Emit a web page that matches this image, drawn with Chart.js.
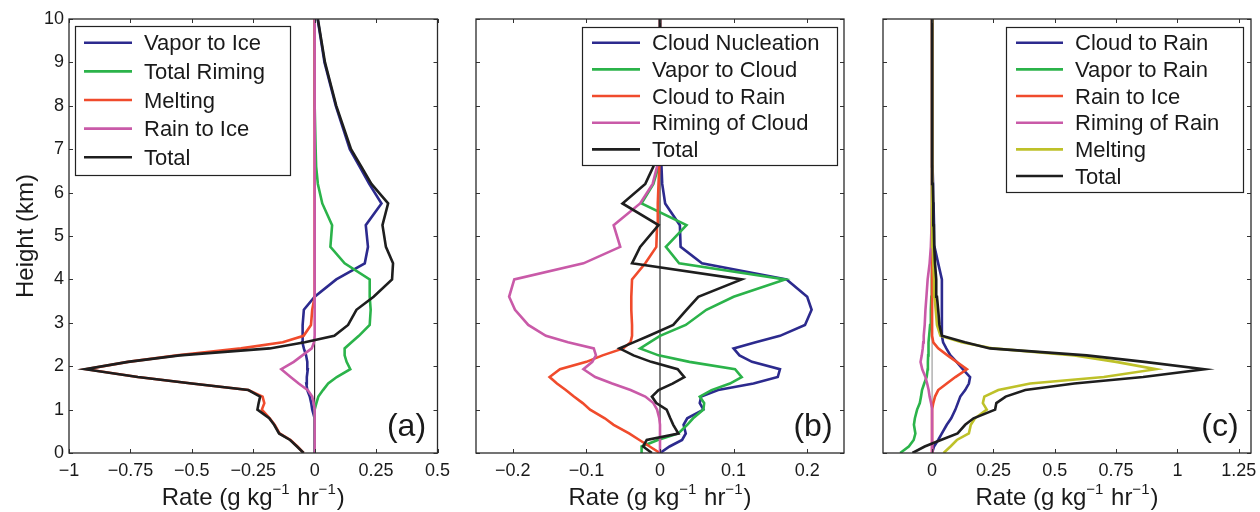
<!DOCTYPE html>
<html>
<head>
<meta charset="utf-8">
<script src="https://cdn.jsdelivr.net/npm/chart.js@4/dist/chart.umd.min.js"></script>
<style>
  html, body { margin: 0; padding: 0; background: #fff; }
  #wrap { position: relative; width: 1260px; height: 512px; }
  #wrap canvas { position: absolute; left: 0; top: 0; }
</style>
</head>
<body>
<div id="wrap">
  <canvas id="panelA" width="1260" height="512"></canvas>
  <canvas id="panelB" width="1260" height="512"></canvas>
  <canvas id="panelC" width="1260" height="512"></canvas>
</div>
<script>
const heights = [0, 0.15, 0.3, 0.45, 0.65, 0.8, 1.0, 1.15, 1.3, 1.45, 1.6, 1.75, 1.93, 2.1, 2.25, 2.41,
  2.55, 2.7, 2.95, 3.3, 3.6, 4.0, 4.37, 4.75, 5.25, 5.75, 6.2, 6.6, 7.0, 8.0, 9.0, 10];

// Panel (a) - ice budget (g/kg/hr)
const labelsA = ['Vapor to Ice', 'Total Riming', 'Melting', 'Rain to Ice', 'Total'];
const vaporToIceA = [0, 0, 0, 0, 0, -0.002, -0.01, -0.014, -0.02, -0.03, -0.034, -0.032, -0.028, -0.03, -0.035, -0.044,
  -0.05, -0.05, -0.048, -0.044, 0, 0.088, 0.204, 0.217, 0.208, 0.272, 0.222, 0.183, 0.143, 0.086, 0.04, 0.012];
const totalRimingA = [0, 0, 0, 0, 0, 0, 0, 0.007, 0.015, 0.034, 0.055, 0.09, 0.145, 0.13, 0.122, 0.122,
  0.15, 0.18, 0.224, 0.228, 0.224, 0.224, 0.122, 0.064, 0.071, 0.031, 0.013, 0.006, 0.004, 0, 0, 0];
const meltingA = [-0.045, -0.07, -0.098, -0.143, -0.163, -0.183, -0.215, -0.205, -0.212, -0.27, -0.5, -0.72, -0.93, -0.76, -0.56, -0.3,
  -0.13, -0.045, -0.015, -0.01, 0, 0, 0, 0, 0, 0, 0, 0, 0, 0, 0, 0];
const rainToIceA = [0, 0, 0, 0, 0, 0, 0, -0.004, -0.01, -0.028, -0.065, -0.098, -0.136, -0.085, -0.05, -0.012,
  -0.003, 0, 0, 0, 0, 0, 0, 0, 0, 0, 0, 0, 0, 0, 0, 0];
const totalA = [-0.045, -0.072, -0.1, -0.145, -0.165, -0.185, -0.233, -0.228, -0.222, -0.27, -0.5, -0.72, -0.934, -0.76, -0.55, -0.183,
  -0.04, 0.08, 0.136, 0.17, 0.24, 0.315, 0.319, 0.29, 0.276, 0.299, 0.231, 0.19, 0.148, 0.088, 0.042, 0.013];

// Panel (b) - cloud water budget
const labelsB = ['Cloud Nucleation', 'Vapor to Cloud', 'Cloud to Rain', 'Riming of Cloud', 'Total'];
const cloudNucleationB = [0, 0.013, 0.03, 0.035, 0.032, 0.037, 0.059, 0.054, 0.056, 0.079, 0.127, 0.16, 0.163, 0.125, 0.108, 0.1,
  0.13, 0.163, 0.197, 0.206, 0.2, 0.172, 0.057, 0.028, 0.027, 0.007, 0.003, 0.002, 0.001, 0, 0, 0];
const vaporToCloudB = [-0.025, -0.025, -0.003, 0.025, 0.037, 0.045, 0.059, 0.06, 0.054, 0.07, 0.095, 0.111, 0.102, 0.04, -0.002, -0.027,
  -0.014, 0, 0.035, 0.063, 0.1, 0.17, 0.026, 0.008, 0.036, -0.025, -0.009, -0.002, 0, 0, 0, 0];
const cloudToRainB = [0, -0.014, -0.028, -0.042, -0.063, -0.075, -0.095, -0.105, -0.117, -0.128, -0.14, -0.15, -0.136, -0.1, -0.078, -0.05,
  -0.04, -0.038, -0.038, -0.039, -0.039, -0.038, -0.02, -0.005, -0.004, -0.003, -0.002, -0.001, 0, 0, 0, 0];
const rimingOfCloudB = [0, 0, 0, 0, 0, -0.001, -0.004, -0.009, -0.02, -0.04, -0.065, -0.088, -0.104, -0.092, -0.087, -0.09,
  -0.125, -0.155, -0.179, -0.197, -0.205, -0.198, -0.104, -0.054, -0.063, -0.027, -0.01, -0.004, -0.001, 0, 0, 0];
const totalB = [-0.011, -0.023, -0.018, 0.025, 0.018, 0.014, 0.009, -0.005, -0.011, -0.002, 0.017, 0.033, 0.024, -0.012, -0.036, -0.055,
  -0.036, -0.015, 0.018, 0.036, 0.052, 0.111, -0.038, -0.027, -0.002, -0.051, -0.02, -0.009, -0.004, 0, 0, 0];

// Panel (c) - rain budget
const labelsC = ['Cloud to Rain', 'Vapor to Rain', 'Rain to Ice', 'Riming of Rain', 'Melting', 'Total'];
const cloudToRainC = [0, 0.008, 0.025, 0.04, 0.06, 0.078, 0.095, 0.105, 0.115, 0.135, 0.15, 0.155, 0.125, 0.1, 0.075, 0.058,
  0.045, 0.04, 0.04, 0.04, 0.04, 0.04, 0.025, 0.01, 0.008, 0.006, 0.004, 0.002, 0, 0, 0, 0];
const vaporToRainC = [-0.13, -0.095, -0.075, -0.068, -0.074, -0.07, -0.061, -0.05, -0.045, -0.041, -0.032, -0.022, -0.018, -0.017, -0.016, -0.015,
  -0.014, -0.012, -0.008, -0.005, -0.003, -0.001, 0, 0, 0, 0, 0, 0, 0, 0, 0, 0];
const rainToIceC = [0, 0, 0, 0, 0, 0, 0, 0.005, 0.012, 0.025, 0.06, 0.095, 0.142, 0.1, 0.063, 0.025,
  0.005, 0, 0, 0, 0, 0, 0, 0, 0, 0, 0, 0, 0, 0, 0, 0];
const rimingOfRainC = [0, 0, 0, 0, 0, 0, 0, -0.004, -0.01, -0.014, -0.02, -0.027, -0.04, -0.047, -0.042, -0.038,
  -0.036, -0.034, -0.03, -0.027, -0.023, -0.018, -0.01, -0.005, -0.002, 0, 0, 0, 0, 0, 0, 0];
const meltingC = [0.047, 0.075, 0.101, 0.15, 0.158, 0.175, 0.223, 0.207, 0.213, 0.27, 0.4, 0.7, 0.912, 0.75, 0.58, 0.25,
  0.12, 0.034, 0.02, 0.015, 0.01, 0.008, 0.005, 0.003, 0.002, 0.001, 0, 0, 0, 0, 0, 0];
const totalC = [-0.08, -0.03, 0.036, 0.104, 0.135, 0.169, 0.257, 0.262, 0.3, 0.38, 0.58, 0.86, 1.11, 0.866, 0.63, 0.236,
  0.134, 0.04, 0.03, 0.025, 0.02, 0.017, 0.012, 0.009, 0.007, 0.005, 0.003, 0.002, 0, 0, 0, 0];

// Axis limits and tick values
const rangeA = [-1, 0.5];
const rangeB = [-0.25, 0.25];
const rangeC = [-0.2, 1.3];
const heightRange = [0, 10];
const xTicksA = [-1, -0.75, -0.5, -0.25, 0, 0.25, 0.5];
const xTicksB = [-0.2, -0.1, 0, 0.1, 0.2];
const xTicksC = [0, 0.25, 0.5, 0.75, 1, 1.25];
const yTicks = [0, 1, 2, 3, 4, 5, 6, 7, 8, 9, 10];

const FONT = '"Liberation Sans", Arial, Helvetica, sans-serif';
const BLUE = '#2c2a8e', GREEN = '#2bb34a', RED = '#f04b2c', MAGENTA = '#c95aa8', YELLOW = '#bec129', BLACK = '#1e1e1e';
const Y_AXIS_W = 40, X_AXIS_H = 30; // fixed scale boxes, tick labels are clipped to them

// minus sign like the original figure
const fmt = v => (v < 0 ? '\u2212' : '') + Math.abs(v);

// Frame, inward ticks, legend box, panel letter and axis titles
const decorPlugin = {
  id: 'decor',
  afterDatasetsDraw(chart, args, opts) {
    const ctx = chart.ctx;
    const a = chart.chartArea;
    const xs = chart.scales.x, ys = chart.scales.y;
    ctx.save();

    // inward ticks on all four sides
    ctx.strokeStyle = '#333';
    ctx.lineWidth = 1;
    ctx.beginPath();
    xs.ticks.forEach(t => {
      const px = Math.round(xs.getPixelForValue(t.value)) + 0.5;
      ctx.moveTo(px, a.bottom); ctx.lineTo(px, a.bottom - 4);
      ctx.moveTo(px, a.top); ctx.lineTo(px, a.top + 4);
    });
    ys.ticks.forEach(t => {
      const py = Math.round(ys.getPixelForValue(t.value)) + 0.5;
      ctx.moveTo(a.left, py); ctx.lineTo(a.left + 4, py);
      ctx.moveTo(a.right, py); ctx.lineTo(a.right - 4, py);
    });
    ctx.stroke();

    // legend box
    const lg = opts.legend;
    ctx.fillStyle = '#fff';
    ctx.fillRect(lg.x, lg.y, lg.w, lg.h);
    ctx.strokeStyle = '#222';
    ctx.lineWidth = 1.2;
    ctx.strokeRect(lg.x + 0.5, lg.y + 0.5, lg.w, lg.h);
    ctx.font = '22px ' + FONT;
    ctx.textAlign = 'left';
    ctx.textBaseline = 'alphabetic';
    chart.data.datasets.filter(d => !d.isZero).forEach((d, i) => {
      const y = lg.row0 + i * lg.step;
      ctx.strokeStyle = d.borderColor;
      ctx.lineWidth = 2.6;
      ctx.beginPath();
      ctx.moveTo(lg.lineFrom, y); ctx.lineTo(lg.lineTo, y);
      ctx.stroke();
      ctx.fillStyle = '#1a1a1a';
      ctx.fillText(d.label, lg.textAt, y + 7.5);
    });

    // frame
    ctx.strokeStyle = '#2a2a2a';
    ctx.lineWidth = 1.3;
    ctx.strokeRect(a.left, a.top, a.right - a.left, a.bottom - a.top);

    // panel letter
    ctx.fillStyle = '#1a1a1a';
    ctx.font = '32px ' + FONT;
    ctx.textAlign = 'center';
    ctx.fillText(opts.letter, a.right - 31, a.bottom - 17);

    // x title with superscripts: Rate (g kg^-1 hr^-1)
    const parts = [['Rate (g kg', false], ['\u22121', true], [' hr', false], ['\u22121', true], [')', false]];
    const widthOf = p => { ctx.font = (p[1] ? '15px ' : '24px ') + FONT; return ctx.measureText(p[0]).width + (p[1] ? 1 : 0); };
    const total = parts.reduce((s, p) => s + widthOf(p), 0);
    let x = (a.left + a.right) / 2 - total / 2;
    ctx.textAlign = 'left';
    parts.forEach(p => {
      const w = widthOf(p);
      ctx.fillText(p[0], x, p[1] ? 494 : 505);
      x += w;
    });

    // y title only on the first panel
    if (opts.yTitle) {
      ctx.save();
      ctx.translate(33, (a.top + a.bottom) / 2);
      ctx.rotate(-Math.PI / 2);
      ctx.font = '24px ' + FONT;
      ctx.textAlign = 'center';
      ctx.fillText(opts.yTitle, 0, 0);
      ctx.restore();
    }
    ctx.restore();
  }
};

function makePanel(canvasId, p) {
  const datasets = p.series.map((s, i) => ({
    label: s[0],
    data: heights.map((h, k) => ({ x: s[1][k], y: h })),
    borderColor: s[2],
    borderWidth: 2.6,
    pointRadius: 0,
    fill: false,
    tension: 0,
    order: p.series.length - i
  }));
  // zero reference line under everything
  datasets.push({
    label: 'zero', isZero: true,
    data: [{ x: 0, y: heightRange[0] }, { x: 0, y: heightRange[1] }],
    borderColor: p.zeroColor, borderWidth: 1, pointRadius: 0, order: 99
  });

  const area = p.area; // [left, top, right, bottom] of the plot box
  return new Chart(document.getElementById(canvasId), {
    type: 'line',
    data: { datasets },
    plugins: [decorPlugin],
    options: {
      responsive: false,
      animation: false,
      events: [],
      layout: {
        padding: { left: area[0] - Y_AXIS_W, top: area[1], right: 1260 - area[2], bottom: 512 - area[3] - X_AXIS_H }
      },
      plugins: {
        legend: { display: false },
        tooltip: { enabled: false },
        decor: { legend: p.legend, letter: p.letter, yTitle: p.yTitle }
      },
      scales: {
        x: {
          type: 'linear', position: 'bottom',
          min: p.range[0], max: p.range[1],
          grid: { display: false, drawTicks: false },
          border: { display: false },
          afterBuildTicks: s => { s.ticks = p.xTicks.map(v => ({ value: v })); },
          afterFit: s => { s.height = X_AXIS_H; s.paddingLeft = 0; s.paddingRight = 0; },
          ticks: { autoSkip: false, maxRotation: 0, padding: 7, color: '#1a1a1a', font: { family: FONT, size: 18 }, callback: fmt }
        },
        y: {
          type: 'linear', position: 'left',
          min: heightRange[0], max: heightRange[1],
          grid: { display: false, drawTicks: false },
          border: { display: false },
          afterBuildTicks: s => { s.ticks = yTicks.map(v => ({ value: v })); },
          afterFit: s => { s.width = Y_AXIS_W; s.paddingTop = 0; s.paddingBottom = 0; },
          ticks: { display: p.showY, padding: 5, color: '#1a1a1a', font: { family: FONT, size: 18 }, callback: fmt }
        }
      }
    }
  });
}

makePanel('panelA', {
  range: rangeA, xTicks: xTicksA, showY: true, letter: '(a)', yTitle: 'Height (km)', zeroColor: '#000',
  area: [69, 19, 437.5, 453],
  legend: { x: 75, y: 26, w: 215, h: 149, row0: 42.7, step: 28.65, lineFrom: 84, lineTo: 132, textAt: 144 },
  series: [
    [labelsA[0], vaporToIceA, BLUE],
    [labelsA[1], totalRimingA, GREEN],
    [labelsA[2], meltingA, RED],
    [labelsA[3], rainToIceA, MAGENTA],
    [labelsA[4], totalA, BLACK]
  ]
});

makePanel('panelB', {
  range: rangeB, xTicks: xTicksB, showY: false, letter: '(b)', yTitle: null, zeroColor: '#000',
  area: [476, 19, 844, 453],
  legend: { x: 582, y: 27, w: 255, h: 138, row0: 42.7, step: 26.67, lineFrom: 592, lineTo: 640, textAt: 652 },
  series: [
    [labelsB[0], cloudNucleationB, BLUE],
    [labelsB[1], vaporToCloudB, GREEN],
    [labelsB[2], cloudToRainB, RED],
    [labelsB[3], rimingOfCloudB, MAGENTA],
    [labelsB[4], totalB, BLACK]
  ]
});

makePanel('panelC', {
  range: rangeC, xTicks: xTicksC, showY: false, letter: '(c)', yTitle: null, zeroColor: '#8a8a8a',
  area: [883, 19, 1251, 453],
  legend: { x: 1006, y: 27, w: 237, h: 165, row0: 42.7, step: 26.67, lineFrom: 1016, lineTo: 1063, textAt: 1075 },
  series: [
    [labelsC[0], cloudToRainC, BLUE],
    [labelsC[1], vaporToRainC, GREEN],
    [labelsC[2], rainToIceC, RED],
    [labelsC[3], rimingOfRainC, MAGENTA],
    [labelsC[4], meltingC, YELLOW],
    [labelsC[5], totalC, BLACK]
  ]
});
</script>
</body>
</html>
